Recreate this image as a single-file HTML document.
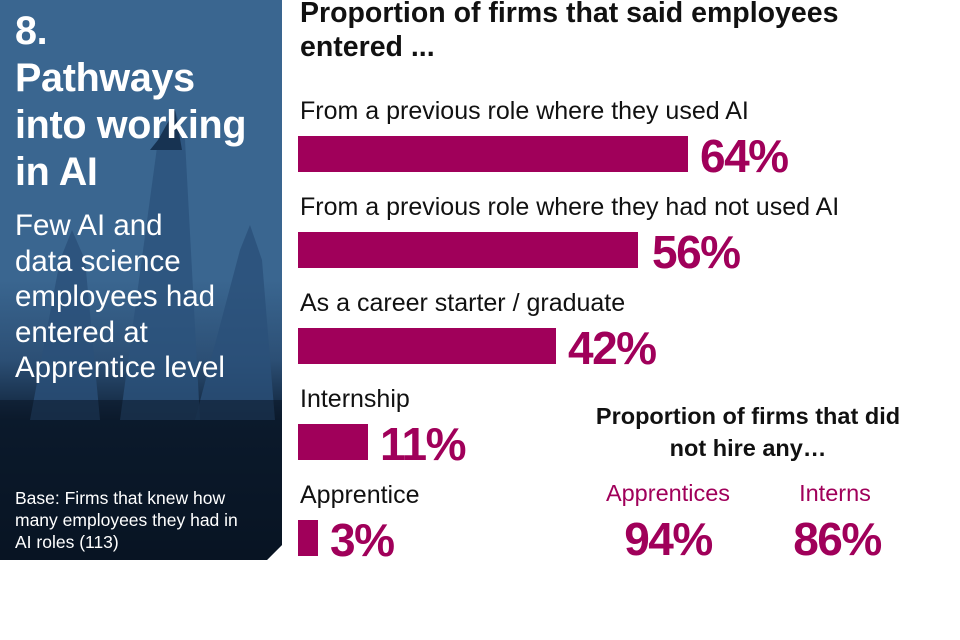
<!DOCTYPE html>
<html><head><meta charset="utf-8"><style>
body{margin:0;width:960px;height:640px;background:#fff;position:relative;overflow:hidden;font-family:"Liberation Sans",Arial,sans-serif}
.a{position:absolute;white-space:nowrap}
.lbl{font-size:25px;line-height:26px;color:#111;left:300px}
.bar{position:absolute;left:298px;height:36px;background:#a0005a}
.pct{font-size:46px;line-height:46px;font-weight:bold;color:#a0005a;letter-spacing:-1.5px}
#panel{position:absolute;left:0;top:0;width:282px;height:560px;clip-path:polygon(0 0,282px 0,282px 545px,267px 560px,0 560px);background:linear-gradient(#3a6690 0,#3a6690 280px,#2c4f75 360px,#0f2238 420px,#081626 560px)}
.w{color:#fff}
</style></head><body>
<div id="panel">
<svg width="282" height="560" style="position:absolute;left:0;top:0">
<polygon points="120,420 158,140 175,110 185,140 200,420" fill="#2c537c" opacity="0.8"/>
<polygon points="150,150 158,140 175,110 182,150" fill="#173352"/>
<polygon points="30,420 60,260 72,230 85,260 100,420" fill="#2a5079" opacity="0.8"/>
<polygon points="195,420 240,250 250,225 262,260 275,420" fill="#2a5079" opacity="0.8"/>
<rect x="0" y="400" width="282" height="160" fill="#07121f" opacity="0.5"/>
</svg>
<div class="a w" style="left:15px;top:8px;font-size:39.5px;line-height:47px;font-weight:bold;letter-spacing:-0.3px">8.<br>Pathways<br>into working<br>in AI</div>
<div class="a w" style="left:15px;top:208px;font-size:29.5px;line-height:35.5px">Few AI and<br>data science<br>employees had<br>entered at<br>Apprentice level</div>
<div class="a w" style="left:15px;top:487px;font-size:17.5px;line-height:22px">Base: Firms that knew how<br>many employees they had in<br>AI roles (113)</div>
</div>

<div class="a" style="left:300px;top:-4px;font-size:28.5px;line-height:34px;font-weight:bold;color:#111">Proportion of firms that said employees<br>entered ...</div>

<div class="a lbl" style="top:98px">From a previous role where they used AI</div>
<div class="bar" style="top:136px;width:390px"></div>
<div class="a pct" style="left:700px;top:133px">64%</div>

<div class="a lbl" style="top:194px">From a previous role where they had not used AI</div>
<div class="bar" style="top:232px;width:340px"></div>
<div class="a pct" style="left:652px;top:229px">56%</div>

<div class="a lbl" style="top:290px">As a career starter / graduate</div>
<div class="bar" style="top:328px;width:258px"></div>
<div class="a pct" style="left:568px;top:325px">42%</div>

<div class="a lbl" style="top:386px">Internship</div>
<div class="bar" style="top:424px;width:70px"></div>
<div class="a pct" style="left:380px;top:421px">11%</div>

<div class="a lbl" style="top:482px">Apprentice</div>
<div class="bar" style="top:520px;width:20px"></div>
<div class="a pct" style="left:330px;top:517px">3%</div>

<div class="a" style="left:548px;width:400px;text-align:center;top:400px;font-size:23.5px;line-height:32px;font-weight:bold;color:#111">Proportion of firms that did<br>not hire any…</div>
<div class="a" style="left:568px;width:200px;text-align:center;top:481px;font-size:23.5px;line-height:24px;color:#a0005a">Apprentices</div>
<div class="a" style="left:735px;width:200px;text-align:center;top:481px;font-size:23.5px;line-height:24px;color:#a0005a">Interns</div>
<div class="a pct" style="left:568px;width:200px;text-align:center;top:516px">94%</div>
<div class="a pct" style="left:737px;width:200px;text-align:center;top:516px">86%</div>
</body></html>
